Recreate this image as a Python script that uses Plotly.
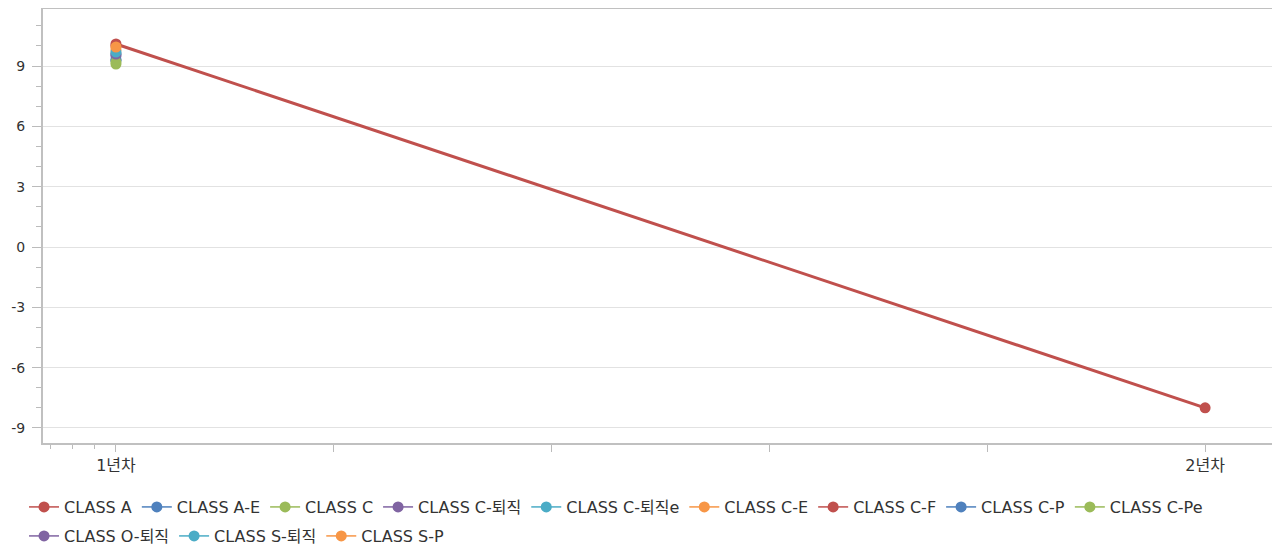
import plotly.graph_objects as go

categories = [1, 2]
category_labels = ["1년차", "2년차"]
series_names = ["CLASS A", "CLASS A-E", "CLASS C", "CLASS C-퇴직", "CLASS C-퇴직e", "CLASS C-E",
                "CLASS C-F", "CLASS C-P", "CLASS C-Pe", "CLASS O-퇴직", "CLASS S-퇴직", "CLASS S-P"]
series_values = [
    [10.1, -8.0],
    [9.3, None],
    [9.1, None],
    [9.5, None],
    [9.6, None],
    [9.8, None],
    [10.0, None],
    [9.3, None],
    [9.2, None],
    [9.6, None],
    [9.7, None],
    [9.95, None],
]
colors = ["#C0504D", "#4F81BD", "#9BBB59", "#8064A2", "#4BACC6", "#F79646"]
y_ticks = [-9, -6, -3, 0, 3, 6, 9]
y_ticktext = ["-9", "-6", "-3", "0", "3", "6", "9"]
x_ticks = [1, 1.2, 1.4, 1.6, 1.8, 2]
x_ticktext = ["1년차", "", "", "", "", "2년차"]
x_minor = [0.94, 0.96, 0.98]
first_row_count = 9

fig = go.Figure()
for i, (name, vals) in enumerate(zip(series_names, series_values)):
    c = colors[i % len(colors)]
    fig.add_trace(go.Scatter(
        x=categories, y=vals, name=name, mode="lines+markers",
        line=dict(color=c, width=3),
        marker=dict(color=c, size=11),
        connectgaps=False, showlegend=False,
    ))
# legend entries (thin line + dot), no visible data
for i, name in enumerate(series_names):
    c = colors[i % len(colors)]
    fig.add_trace(go.Scatter(
        x=[None], y=[None], name=name, mode="lines+markers",
        line=dict(color=c, width=1.5),
        marker=dict(color=c, size=11),
        legend="legend" if i < first_row_count else "legend2",
    ))

text_font = "DejaVu Sans, Noto Sans CJK KR, sans-serif"
legend_common = dict(orientation="h", xanchor="left", yanchor="middle",
                     xref="container", yref="container",
                     font=dict(family=text_font, size=16, color="#333333"),
                     itemwidth=30, bgcolor="rgba(0,0,0,0)")
fig.update_layout(
    width=1272, height=541,
    margin=dict(l=35, r=3, t=1, b=106),
    plot_bgcolor="white", paper_bgcolor="white",
    font=dict(family=text_font, size=14, color="#333333"),
    showlegend=True,
    legend=dict(x=0.0126, y=0.0776, **legend_common),
    legend2=dict(x=0.0126, y=0.024, **legend_common),
    xaxis=dict(
        range=[0.933, 2.066], tickmode="array", tickvals=x_ticks, ticktext=x_ticktext,
        showgrid=False, zeroline=False, ticks="outside", ticklen=7, tickcolor="#bbbbbb",
        tickwidth=1, showline=True, linecolor="#c0c0c0", linewidth=2, mirror=True,
        tickfont=dict(family=text_font, size=16, color="#333333"), automargin=False,
        minor=dict(tickmode="array", tickvals=x_minor, ticks="outside", ticklen=4,
                   tickcolor="#bbbbbb", showgrid=False),
    ),
    yaxis=dict(
        range=[-9.75, 11.84], tickmode="array", tickvals=y_ticks, ticktext=y_ticktext,
        showgrid=True, gridcolor="#e2e2e2", gridwidth=1, zeroline=False,
        ticks="outside", ticklen=9, tickcolor="#bbbbbb", tickwidth=1,
        showline=True, linecolor="#c0c0c0", linewidth=2, mirror=True,
        tickfont=dict(family=text_font, size=14, color="#333333"), automargin=False,
        ticklabelstandoff=4,
        minor=dict(dtick=1, tick0=0, ticks="outside", ticklen=5, tickcolor="#bbbbbb",
                   showgrid=False),
    ),
)
fig.write_html("out.html")
